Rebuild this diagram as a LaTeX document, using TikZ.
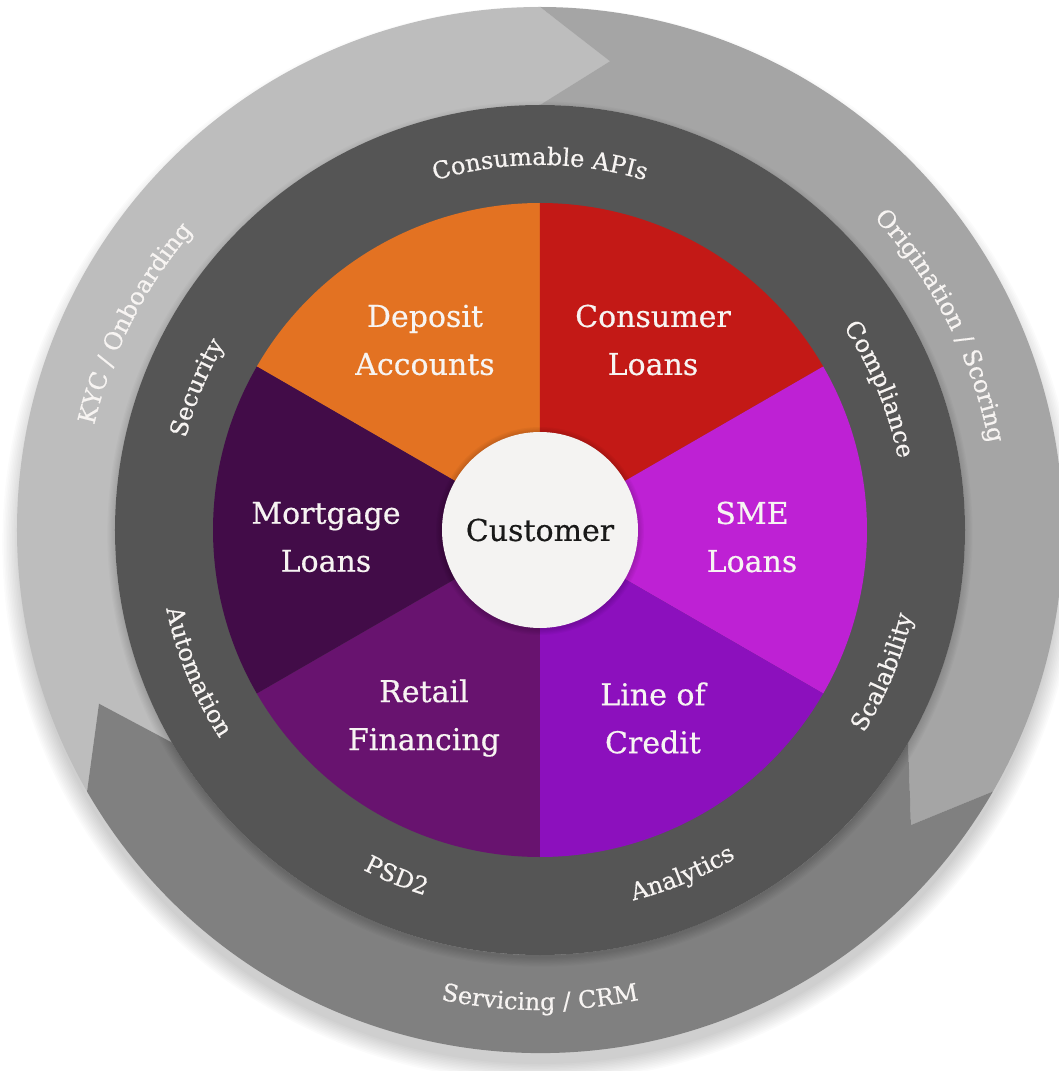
\documentclass[tikz,border=0pt]{standalone}
\usepackage{fontspec}
\setmainfont{DejaVu Serif}[FakeBold=0.5]
\usetikzlibrary{decorations.text}
\newcommand\ringfnt{\fontsize{24}{28}\selectfont}
\newcommand\piefnt{\fontsize{30}{48}\selectfont}
\definecolor{cDeposit}{HTML}{E37222}
\definecolor{cConsumer}{HTML}{C31916}
\definecolor{cSME}{HTML}{BE21D4}
\definecolor{cCredit}{HTML}{8C10BD}
\definecolor{cRetail}{HTML}{68136F}
\definecolor{cMortgage}{HTML}{420C48}
\definecolor{cCust}{HTML}{F4F3F2}
\definecolor{cRing}{HTML}{555555}
\definecolor{gLight}{HTML}{BDBDBD}
\definecolor{gMid}{HTML}{A5A5A5}
\definecolor{gDark}{HTML}{808080}
\definecolor{txtLight}{HTML}{F7F4F2}
\begin{document}
\begin{tikzpicture}[x=1pt,y=1pt,
  pielbl/.style={align=center, font=\piefnt, text=txtLight, inner sep=0pt},
  cwlbl/.style={decorate, decoration={text along path, text align=center, text color=txtLight, text={|\ringfnt|#1}}},
  ccwlbl/.style={decorate, decoration={text along path, text align=center, text color=txtLight, text={|\ringfnt|#1}}}
]
\useasboundingbox (-540,-541) rectangle (518,530);
\fill[white] (-540,-541) rectangle (518,530);
% soft shadow of the outer ring
\foreach \i in {0,...,11} \fill[black, opacity=0.014] (0,-14) circle[radius=520+\i*1.6];
\def\Ri{425}\def\Ro{523}\def\Rm{474}
% outer arrows
\fill[gLight] (210:\Ro) -- (201.5:\Rm) -- (210:\Ri) arc[start angle=210, end angle=90, radius=\Ri]
  -- (81.5:\Rm) -- (90:\Ro) arc[start angle=90, end angle=210, radius=\Ro] -- cycle;
\fill[gMid] (90:\Ro) -- (81.5:\Rm) -- (90:\Ri) arc[start angle=90, end angle=-30, radius=\Ri]
  -- (-38.5:\Rm) -- (-30:\Ro) arc[start angle=-30, end angle=90, radius=\Ro] -- cycle;
\fill[gDark] (-30:\Ro) -- (-38.5:\Rm) -- (-30:\Ri) arc[start angle=-30, end angle=-150, radius=\Ri]
  -- (-158.5:\Rm) -- (-150:\Ro) arc[start angle=-150, end angle=-30, radius=\Ro] -- cycle;
% shadow of dark ring
\foreach \i in {1,...,8} \fill[black, opacity=0.018] (0,-4) circle[radius=423+\i*1.2];
% dark ring
\fill[cRing] (0,0) circle[radius=425];
% pie sectors
\fill[cDeposit]  (0,0) -- (90:327)  arc[start angle=90,  end angle=150, radius=327] -- cycle;
\fill[cConsumer] (0,0) -- (30:327)  arc[start angle=30,  end angle=90,  radius=327] -- cycle;
\fill[cSME]      (0,0) -- (-30:327) arc[start angle=-30, end angle=30,  radius=327] -- cycle;
\fill[cCredit]   (0,0) -- (-90:327) arc[start angle=-90, end angle=-30, radius=327] -- cycle;
\fill[cRetail]   (0,0) -- (-150:327) arc[start angle=-150, end angle=-90, radius=327] -- cycle;
\fill[cMortgage] (0,0) -- (150:327) arc[start angle=150, end angle=210, radius=327] -- cycle;
% customer
\foreach \i in {1,...,5} \fill[black, opacity=0.03] (0,-1) circle[radius=98+\i*1.2];
\node[circle, fill=cCust, minimum size=196pt, inner sep=0pt, font=\piefnt, text=black!90] (customer) at (0,0) {Customer};
% pie labels
\node[pielbl] (deposit)  at (-115,190) {Deposit\\Accounts};
\node[pielbl] (consumer) at (113,190)  {Consumer\\Loans};
\node[pielbl] (mortgage) at (-214,-7) {Mortgage\\Loans};
\node[pielbl] (sme)      at (212,-7)  {SME\\Loans};
\node[pielbl] (retail)   at (-116,-188) {Retail\\Financing};
\node[pielbl] (credit)   at (113,-188) {Line of\\Credit};
% dark ring labels (clockwise: tops outward)
\path[cwlbl={Consumable APIs}] (150:365) arc[start angle=150, end angle=30, radius=365];
\path[cwlbl={Security}] (217.5:366) arc[start angle=217.5, end angle=97.5, radius=366];
\path[cwlbl={Compliance}] (82.5:365) arc[start angle=82.5, end angle=-37.5, radius=365];
% dark ring labels (counter-clockwise: tops inward)
\path[ccwlbl={Scalability}] (-82.5:382) arc[start angle=-82.5, end angle=37.5, radius=382];
\path[ccwlbl={Analytics}] (-127.5:382) arc[start angle=-127.5, end angle=-7.5, radius=382];
\path[ccwlbl={PSD2}] (-172.5:383) arc[start angle=-172.5, end angle=-52.5, radius=383];
\path[ccwlbl={Automation}] (-217.5:382) arc[start angle=-217.5, end angle=-97.5, radius=382];
% outer ring labels
\path[cwlbl={KYC / Onboarding}] (213:458) arc[start angle=213, end angle=93, radius=458];
\path[cwlbl={Origination / Scoring}] (87:457) arc[start angle=87, end angle=-33, radius=457];
\path[ccwlbl={Servicing / CRM}] (-150:480) arc[start angle=-150, end angle=-30, radius=480];
\end{tikzpicture}
\end{document}
